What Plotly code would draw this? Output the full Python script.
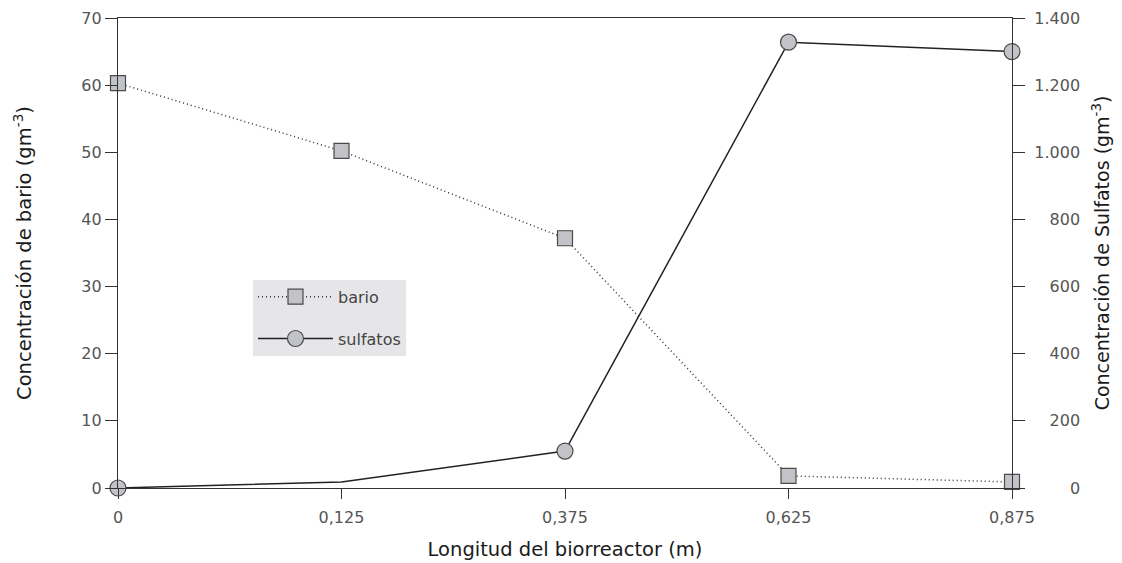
import plotly.graph_objects as go

x_labels = ["0", "0,125", "0,375", "0,625", "0,875"]
bario = [60.3, 50.2, 37.2, 1.8, 0.9]
sulfatos = [0, 18, 110, 1328, 1300]
sulf_marker_visible = [1, 0, 1, 1, 1]

left_ticks = [0, 10, 20, 30, 40, 50, 60, 70]
right_ticks = [0, 200, 400, 600, 800, 1000, 1200, 1400]
right_ticktext = ["0", "200", "400", "600", "800", "1.000", "1.200", "1.400"]

NB = "\u00a0"
# right-align right-axis labels by padding with non-breaking spaces
def pad(t):
    digits = sum(c.isdigit() for c in t)
    dots = t.count(".")
    width = digits * 2 + dots  # in half-digit units
    return NB * (9 - width) + t

right_ticktext_padded = [pad(t) for t in right_ticktext]

xpos = list(range(len(x_labels)))
fill = "#c2c3c8"
edge = "#4a4a4a"
font = "DejaVu Sans"

fig = go.Figure()
fig.add_trace(go.Scatter(
    x=xpos, y=bario, name="bario", mode="lines+markers", legendgroup="b",
    line=dict(color="#333333", width=1.5, dash="1px,3px"),
    marker=dict(symbol="square", size=15, color=fill, line=dict(color=edge, width=1.2)),
    cliponaxis=False,
))
fig.add_trace(go.Scatter(
    x=xpos, y=sulfatos, name="sulfatos", mode="lines", yaxis="y2",
    line=dict(color="#222222", width=1.5),
    showlegend=False, cliponaxis=False,
))
fig.add_trace(go.Scatter(
    x=[p for p, v in zip(xpos, sulf_marker_visible) if v],
    y=[s for s, v in zip(sulfatos, sulf_marker_visible) if v],
    name="sulfatos", mode="markers", yaxis="y2",
    marker=dict(symbol="circle", size=16, color=fill, line=dict(color=edge, width=1.2)),
    showlegend=False, cliponaxis=False,
))
# legend entry for sulfatos
fig.add_trace(go.Scatter(
    x=[None], y=[None], name="sulfatos", mode="lines+markers", yaxis="y2", legendgroup="s",
    line=dict(color="#222222", width=1.5),
    marker=dict(symbol="circle", size=16, color=fill, line=dict(color=edge, width=1.2)),
))

fig.update_layout(
    width=1114, height=555,
    margin=dict(l=110, r=110, t=10, b=75),
    paper_bgcolor="white", plot_bgcolor="white",
    font=dict(family=font, color="#555555", size=16),
    showlegend=True,
    legend=dict(
        x=0.151, y=0.443, xanchor="left", yanchor="top",
        bgcolor="#e6e6e8", borderwidth=0,
        font=dict(size=16, color="#444444"),
        itemwidth=75, tracegroupgap=18,
    ),
    xaxis=dict(
        range=[0, 4], tickvals=xpos, ticktext=x_labels,
        showgrid=False, zeroline=False, automargin=False,
        showline=True, linecolor="#333333", linewidth=1.2, mirror=True,
        ticks="outside", ticklen=10, tickcolor="#333333", ticklabelstandoff=5,
        title=dict(text="Longitud del biorreactor (m)", font=dict(size=19.5, color="#1a1a1a"), standoff=16),
    ),
    yaxis=dict(
        range=[0, 70], tickvals=left_ticks,
        showgrid=False, zeroline=False, automargin=False,
        showline=True, linecolor="#333333", linewidth=1.2,
        ticks="outside", ticklen=12, tickcolor="#333333",
        title=dict(text="Concentración de bario (gm<sup>-3</sup>)", font=dict(size=19.5, color="#1a1a1a"), standoff=44),
    ),
    yaxis2=dict(
        range=[0, 1400], tickvals=right_ticks, ticktext=right_ticktext_padded,
        overlaying="y", side="right", automargin=False,
        showgrid=False, zeroline=False,
        showline=True, linecolor="#333333", linewidth=1.2,
        ticks="outside", ticklen=12, tickcolor="#333333", ticklabelstandoff=6,
        title=dict(text="Concentración de Sulfatos (gm<sup>-3</sup>)", font=dict(size=19, color="#1a1a1a"), standoff=16),
    ),
)

fig.write_html("out.html")
